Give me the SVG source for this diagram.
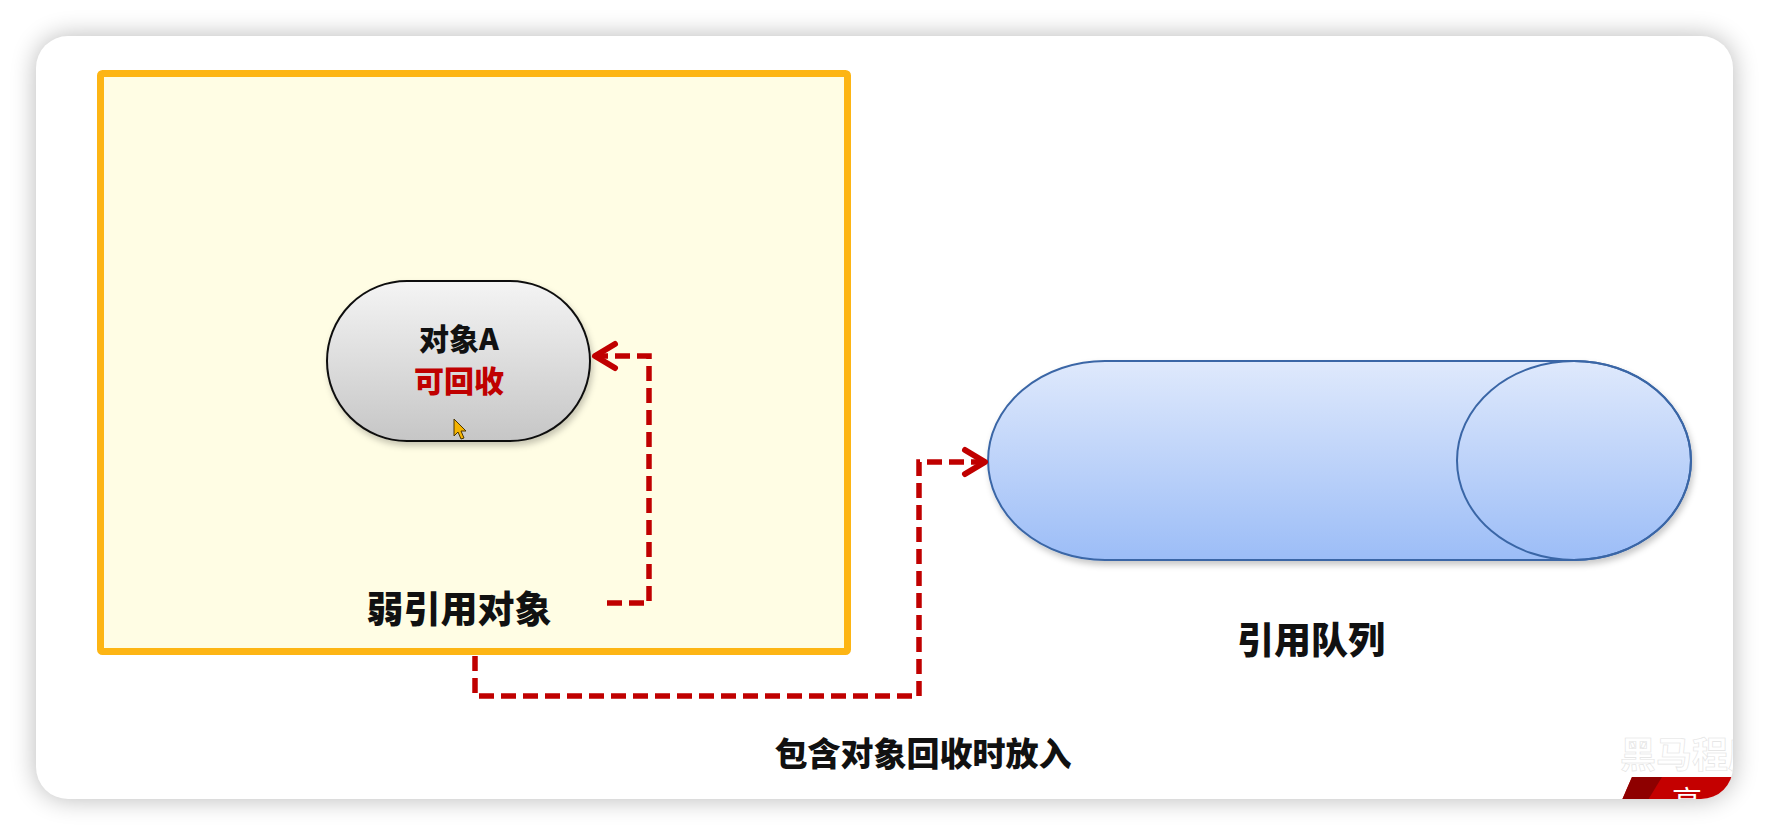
<svg xmlns="http://www.w3.org/2000/svg" width="1768" height="836" viewBox="0 0 1768 836">
  <style>
    .lbl { font-family: "Noto Sans CJK SC", "Noto Sans", sans-serif; font-weight: 900; text-anchor: middle; fill: #111111; }
    .red { fill: #C00000; }
    .conn { fill: none; stroke: #C00000; stroke-width: 5.5; stroke-dasharray: 15 7; stroke-linejoin: miter; }
  </style>
  <defs>
    <filter id="cardShadow" x="-10%" y="-10%" width="120%" height="120%">
      <feGaussianBlur stdDeviation="13"/>
    </filter>
    <filter id="softShadow" x="-10%" y="-10%" width="120%" height="130%">
      <feDropShadow dx="2" dy="4" stdDeviation="3" flood-color="#000000" flood-opacity="0.22"/>
    </filter>
    <linearGradient id="grayFill" x1="0" y1="0" x2="0" y2="1">
      <stop offset="0" stop-color="#f4f4f4"/>
      <stop offset="1" stop-color="#c6c6c6"/>
    </linearGradient>
    <linearGradient id="blueFill" x1="0" y1="0" x2="0" y2="1">
      <stop offset="0" stop-color="#dfe9fc"/>
      <stop offset="1" stop-color="#9cbdf7"/>
    </linearGradient>
    <clipPath id="cardClip">
      <rect x="36" y="36" width="1697" height="763" rx="32"/>
    </clipPath>
    <marker id="chevron" markerUnits="userSpaceOnUse" markerWidth="30" markerHeight="30" refX="0" refY="0" orient="auto" overflow="visible">
      <path d="M -21,-12 L -1,0 L -21,12" fill="none" stroke="#C00000" stroke-width="6" stroke-linecap="round" stroke-linejoin="round"/>
    </marker>
  </defs>

  <!-- page and card -->
  <rect width="1768" height="836" fill="#ffffff"/>
  <rect x="36" y="36" width="1697" height="763" rx="32" fill="#000000" opacity="0.28" filter="url(#cardShadow)"/>
  <rect x="36" y="36" width="1697" height="763" rx="32" fill="#ffffff"/>

  <!-- weak reference container -->
  <g id="weak-ref">
    <rect x="100.5" y="73.5" width="747" height="578" rx="2" fill="#FFFDE4" stroke="#FDB514" stroke-width="7"/>
    <text class="lbl" x="459" y="623" font-size="37">弱引用对象</text>
  </g>

  <!-- object A -->
  <g id="object-a">
    <rect x="327" y="281" width="263" height="160" rx="80" fill="url(#grayFill)" stroke="#111111" stroke-width="2" filter="url(#softShadow)"/>
    <text class="lbl" x="459" y="350" font-size="30">对象A</text>
    <text class="lbl red" x="459" y="392" font-size="30">可回收</text>
    <!-- mouse pointer -->
    <polygon points="454,419 454,436 458,432 461,439 464,438 461,431 466,431" fill="#F5B400" stroke="#4a3500" stroke-width="1"/>
  </g>

  <!-- reference queue -->
  <g id="ref-queue">
    <path d="M 1105,361 L 1574,361 A 117,99.5 0 0 1 1574,560 L 1105,560 A 117,99.5 0 0 1 1105,361 Z" fill="url(#blueFill)" stroke="#3A66A6" stroke-width="2" filter="url(#softShadow)"/>
    <ellipse cx="1574" cy="460.5" rx="117" ry="99.5" fill="none" stroke="#3A66A6" stroke-width="2"/>
    <text class="lbl" x="1311" y="654" font-size="37">引用队列</text>
  </g>

  <!-- connectors -->
  <g id="connectors">
    <path class="conn" d="M 607,603 L 649,603 L 649,356 L 594,356" marker-end="url(#chevron)"/>
    <path class="conn" d="M 475,656 L 475,696 L 919,696 L 919,462 L 986,462" marker-end="url(#chevron)"/>
  </g>

  <!-- caption -->
  <g id="caption">
    <text class="lbl" x="923" y="766" font-size="33">包含对象回收时放入</text>
  </g>

  <!-- corner badge -->
  <g id="badge" clip-path="url(#cardClip)">
    <polygon points="1622,800 1632,777 1740,777 1740,800" fill="#C40000"/>
    <polygon points="1622,800 1632,777 1662,777 1648,800" fill="#8E0000"/>
    <text x="1672" y="812" font-family="'Noto Sans CJK SC', serif" font-size="30" fill="#ffffff">高</text>
    <text x="1620" y="768" font-family="'Noto Sans CJK SC', sans-serif" font-weight="700" font-size="36" fill="#ffffff" stroke="#e2e2e2" stroke-width="0.6">黑马程序员</text>
  </g>
</svg>
